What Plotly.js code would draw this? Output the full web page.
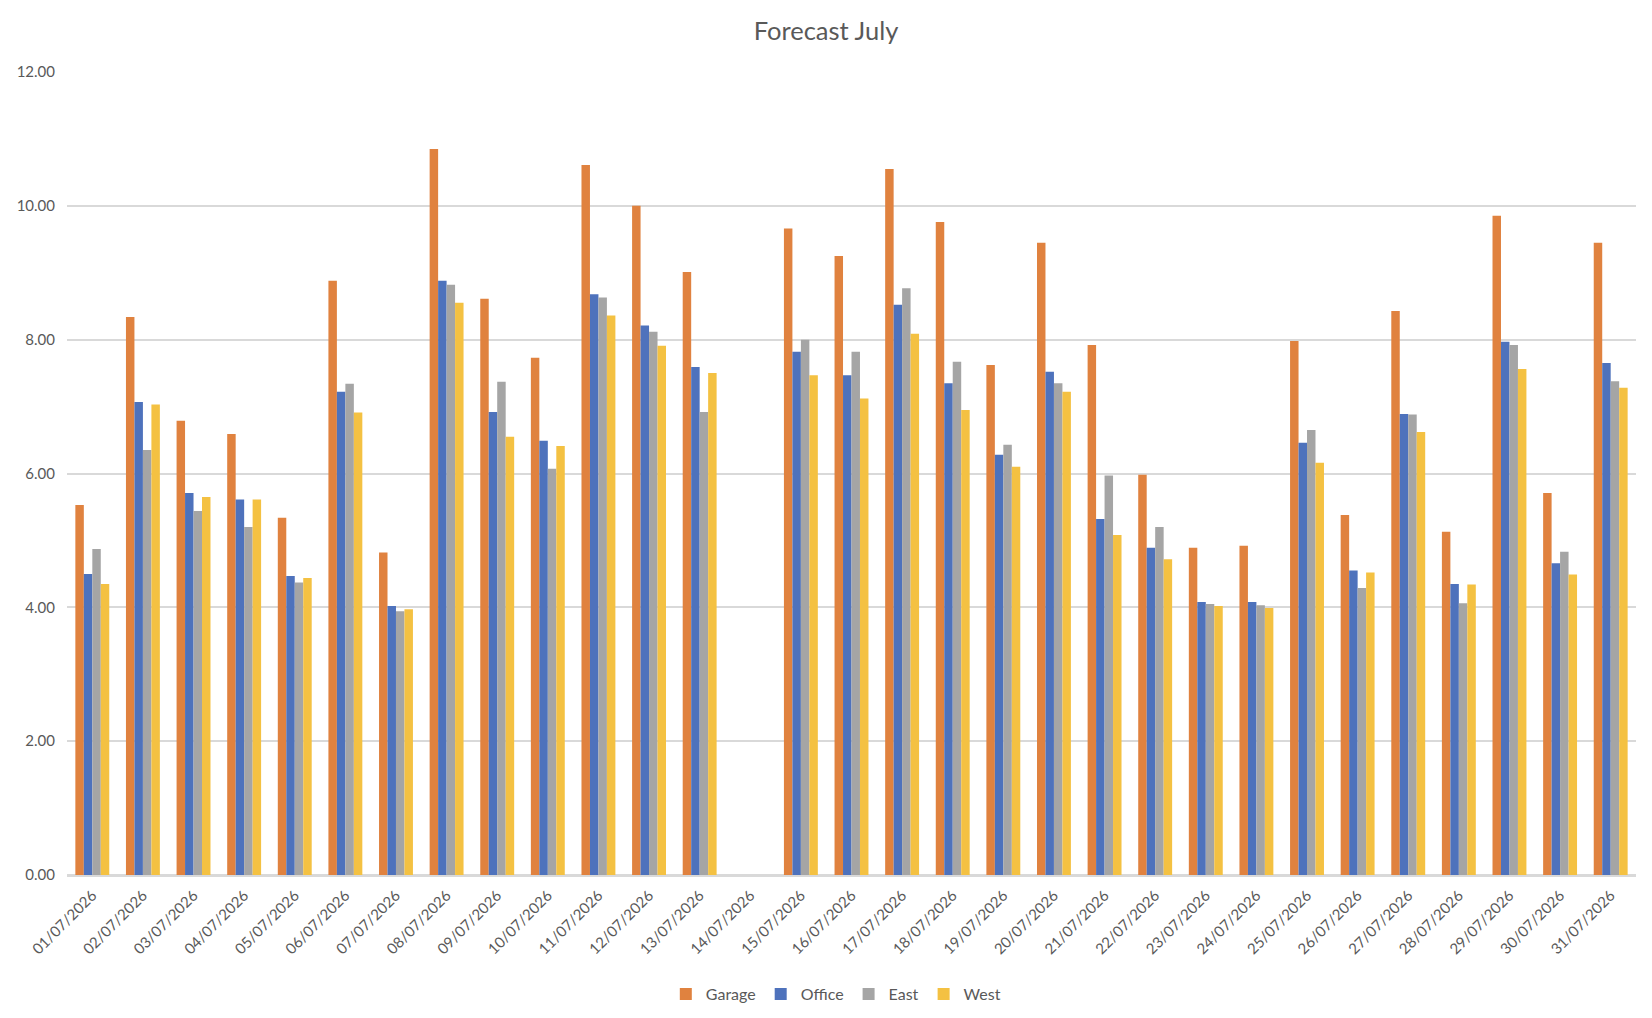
<!DOCTYPE html>
<html>
<head>
<meta charset="utf-8">
<script src="https://cdn.plot.ly/plotly-3.0.1.min.js"></script>
<style>
  html, body { margin: 0; padding: 0; background: #ffffff; }
  #chart { width: 1652px; height: 1018px; }
</style>
</head>
<body>
<div id="chart"></div>
<script>
const dates = [
  "01/07/2026","02/07/2026","03/07/2026","04/07/2026","05/07/2026","06/07/2026","07/07/2026",
  "08/07/2026","09/07/2026","10/07/2026","11/07/2026","12/07/2026","13/07/2026","14/07/2026",
  "15/07/2026","16/07/2026","17/07/2026","18/07/2026","19/07/2026","20/07/2026","21/07/2026",
  "22/07/2026","23/07/2026","24/07/2026","25/07/2026","26/07/2026","27/07/2026","28/07/2026",
  "29/07/2026","30/07/2026","31/07/2026"
];

const garage = [5.53, 8.34, 6.79, 6.59, 5.34, 8.88, 4.82, 10.85, 8.61, 7.73, 10.61, 10.00, 9.01, null,
  9.66, 9.25, 10.55, 9.76, 7.62, 9.45, 7.92, 5.98, 4.89, 4.92, 7.98, 5.38, 8.43, 5.13, 9.85, 5.71, 9.45];
const office = [4.50, 7.07, 5.71, 5.61, 4.47, 7.22, 4.02, 8.88, 6.92, 6.49, 8.68, 8.21, 7.59, null,
  7.82, 7.47, 8.52, 7.35, 6.28, 7.52, 5.32, 4.89, 4.08, 4.08, 6.46, 4.55, 6.89, 4.35, 7.97, 4.66, 7.65];
const east = [4.87, 6.35, 5.44, 5.20, 4.37, 7.34, 3.94, 8.82, 7.37, 6.07, 8.63, 8.12, 6.92, null,
  8.00, 7.82, 8.77, 7.67, 6.43, 7.35, 5.97, 5.20, 4.05, 4.03, 6.65, 4.29, 6.88, 4.06, 7.92, 4.83, 7.38];
const west = [4.35, 7.03, 5.65, 5.61, 4.44, 6.91, 3.97, 8.55, 6.55, 6.41, 8.36, 7.91, 7.50, null,
  7.47, 7.12, 8.09, 6.95, 6.10, 7.22, 5.08, 4.72, 4.02, 3.99, 6.16, 4.52, 6.62, 4.34, 7.56, 4.49, 7.28];

const seriesNames = ["Garage", "Office", "East", "West"];
const seriesColors = ["#E0823F", "#4E72BC", "#A5A5A5", "#F4C142"];
const seriesValues = [garage, office, east, west];

const traces = seriesValues.map((vals, i) => ({
  type: "bar",
  name: seriesNames[i],
  x: dates,
  y: vals,
  marker: { color: seriesColors[i], line: { width: 0 } },
  hoverinfo: "x+y+name"
}));

const textColor = "#595959";
const fontFamily = "Lato, 'Open Sans', 'DejaVu Sans', sans-serif";

const layout = {
  width: 1652,
  height: 1018,
  paper_bgcolor: "#ffffff",
  plot_bgcolor: "#ffffff",
  font: { family: fontFamily, color: textColor, size: 14 },
  title: {
    text: "Forecast July",
    font: { family: fontFamily, size: 25.5, color: textColor },
    x: 0.5, xanchor: "center",
    y: 1 - 31 / 1018, yanchor: "middle"
  },
  margin: { l: 67, r: 16, t: 72, b: 143, pad: 0 },
  barmode: "group",
  bargap: 0.33,
  bargroupgap: 0,
  xaxis: {
    type: "category",
    tickangle: -45,
    tickfont: { family: fontFamily, size: 15, color: textColor },
    showgrid: false,
    showline: true,
    linecolor: "#D9D9D9",
    linewidth: 1.5,
    ticks: "outside",
    ticklen: 4,
    tickcolor: "rgba(0,0,0,0)",
    automargin: false
  },
  yaxis: {
    range: [0, 12],
    dtick: 2,
    tick0: 0,
    tickformat: ".2f",
    showgrid: true,
    gridcolor: "#D9D9D9",
    gridwidth: 1.5,
    zeroline: true,
    zerolinecolor: "#D9D9D9",
    zerolinewidth: 1.5,
    showline: false,
    ticks: "outside",
    ticklen: 8,
    tickcolor: "rgba(0,0,0,0)",
    tickfont: { family: fontFamily, size: 15, color: textColor },
    automargin: false
  },
  showlegend: true,
  legend: {
    orientation: "h",
    x: 0.49, xanchor: "center",
    xref: "paper",
    yref: "container",
    y: 1 - 994 / 1018, yanchor: "middle",
    font: { family: fontFamily, size: 16, color: textColor },
    itemwidth: 30,
    traceorder: "normal"
  }
};

Plotly.newPlot("chart", traces, layout, { displayModeBar: false, responsive: false });
</script>
</body>
</html>
